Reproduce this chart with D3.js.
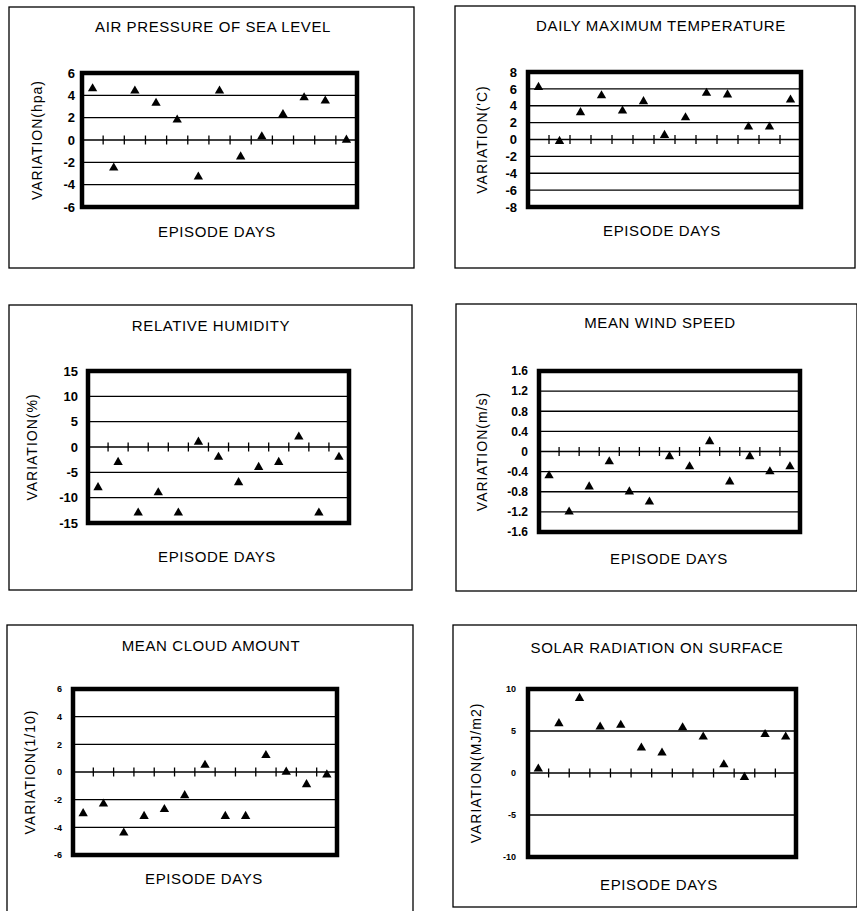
<!DOCTYPE html>
<html>
<head>
<meta charset="utf-8">
<script src="https://cdn.jsdelivr.net/npm/d3@7"></script>
<style>
  html, body { margin: 0; padding: 0; background: #fff; }
  svg { display: block; }
  text { font-family: "Liberation Sans", Arial, Helvetica, sans-serif; fill: #000; }
</style>
</head>
<body>
<svg id="chart" width="857" height="911"></svg>
<script>
// Episode days along the horizontal axis
const episodeDays = [1, 2, 3, 4, 5, 6, 7, 8, 9, 10, 11, 12, 13];

// Variation of each element on the episode days
const airPressure    = [4.6, -2.5, 4.4, 3.3, 1.8, -3.3, 4.4, -1.5, 0.3, 2.3, 3.8, 3.5, 0.0];
const maxTemperature = [6.2, -0.2, 3.2, 5.2, 3.4, 4.5, 0.5, 2.6, 5.5, 5.3, 1.5, 1.5, 4.7];
const humidity       = [-8, -3, -13, -9, -13, 1, -2, -7, -4, -3, 2, -13, -2];
const windSpeed      = [-0.48, -1.2, -0.7, -0.2, -0.8, -1.0, -0.1, -0.3, 0.2, -0.6, -0.1, -0.4, -0.3];
const cloudAmount    = [-3.0, -2.3, -4.4, -3.2, -2.7, -1.7, 0.5, -3.2, -3.2, 1.2, 0.0, -0.9, -0.2];
const solarRadiation = [0.5, 5.9, 8.9, 5.5, 5.7, 3.0, 2.4, 5.4, 4.3, 1.0, -0.5, 4.6, 4.3];

// Vertical axis ticks
const pressureTicks    = [-6, -4, -2, 0, 2, 4, 6];
const temperatureTicks = [-8, -6, -4, -2, 0, 2, 4, 6, 8];
const humidityTicks    = [-15, -10, -5, 0, 5, 10, 15];
const windTicks        = [-1.6, -1.2, -0.8, -0.4, 0, 0.4, 0.8, 1.2, 1.6];
const cloudTicks       = [-6, -4, -2, 0, 2, 4, 6];
const solarTicks       = [-10, -5, 0, 5, 10];

// Panel titles and axis titles
const titles  = ["AIR PRESSURE OF SEA LEVEL", "DAILY MAXIMUM TEMPERATURE", "RELATIVE HUMIDITY",
                 "MEAN WIND SPEED", "MEAN CLOUD AMOUNT", "SOLAR RADIATION ON SURFACE"];
const yTitles = ["VARIATION(hpa)", "VARIATION('C)", "VARIATION(%)",
                 "VARIATION(m/s)", "VARIATION(1/10)", "VARIATION(MJ/m2)"];
const xTitle  = "EPISODE DAYS";

const series = [airPressure, maxTemperature, humidity, windSpeed, cloudAmount, solarRadiation];
const tickSets = [pressureTicks, temperatureTicks, humidityTicks, windTicks, cloudTicks, solarTicks];

// Page layout of the six panels: outer box, plot frame, text anchors
const layout = [
  { box: [9, 7, 414, 268],    frame: [82, 73, 357, 207],   tx: 213, ty: 32,  xx: 217, xy: 237, yx: 38,  gap: 7,  fs: 13, fw: "bold" },
  { box: [455, 6, 855, 268],  frame: [528, 72, 801, 207],  tx: 661, ty: 31,  xx: 662, xy: 236, yx: 483, gap: 11, fs: 13, fw: "bold" },
  { box: [9, 305, 412, 590],  frame: [88, 371, 349, 523],  tx: 211, ty: 331, xx: 217, xy: 562, yx: 33,  gap: 10, fs: 13, fw: "bold" },
  { box: [456, 304, 857, 591],frame: [539, 371, 800, 532], tx: 660, ty: 328, xx: 669, xy: 564, yx: 483, gap: 11, fs: 12, fw: "bold" },
  { box: [7, 625, 413, 930],  frame: [73, 689, 337, 855],  tx: 211, ty: 651, xx: 204, xy: 884, yx: 31,  gap: 11, fs: 9,  fw: "bold" },
  { box: [453, 625, 857, 907],frame: [528, 689, 796, 857], tx: 657, ty: 653, xx: 659, xy: 890, yx: 477, gap: 12, fs: 9,  fw: "bold" }
];

const svg = d3.select("#chart");

const fmt = v => (Math.abs(v) < 1e-9 ? "0" : String(+v.toFixed(2)));

layout.forEach((L, i) => {
  const g = svg.append("g");
  const values = series[i];
  const ticks = tickSets[i];
  const [x0, y0, x1, y1] = L.frame;

  // outer box
  g.append("rect")
    .attr("x", L.box[0]).attr("y", L.box[1])
    .attr("width", L.box[2] - L.box[0]).attr("height", L.box[3] - L.box[1])
    .attr("fill", "none").attr("stroke", "#000").attr("stroke-width", 1.3);

  const x = d3.scaleBand().domain(episodeDays).range([x0, x1]);
  const y = d3.scaleLinear().domain([ticks[0], ticks[ticks.length - 1]]).range([y1, y0]);

  // horizontal grid lines (interior ticks)
  g.selectAll("line.grid")
    .data(ticks.slice(1, -1))
    .join("line")
    .attr("x1", x0).attr("x2", x1)
    .attr("y1", d => y(d)).attr("y2", d => y(d))
    .attr("stroke", "#000").attr("stroke-width", 1.3);

  // day separators on the zero line
  g.selectAll("line.day")
    .data(episodeDays.slice(1))
    .join("line")
    .attr("x1", d => x(d)).attr("x2", d => x(d))
    .attr("y1", y(0) - 4.5).attr("y2", y(0) + 4.5)
    .attr("stroke", "#000").attr("stroke-width", 1.3);

  // plot frame
  g.append("rect")
    .attr("x", x0).attr("y", y0)
    .attr("width", x1 - x0).attr("height", y1 - y0)
    .attr("fill", "none").attr("stroke", "#000").attr("stroke-width", 4.5);

  // vertical axis labels
  const axis = d3.axisLeft(y).tickValues(ticks).tickSize(0).tickPadding(L.gap).tickFormat(fmt);
  const ax = g.append("g").attr("transform", `translate(${x0},0)`).call(axis);
  ax.select(".domain").remove();
  ax.selectAll("text")
    .attr("font-size", L.fs).attr("font-weight", L.fw)
    .attr("font-family", "Liberation Sans, Arial, sans-serif")
    .attr("fill", "#000");

  // triangle markers
  g.selectAll("path.pt")
    .data(values)
    .join("path")
    .attr("d", d3.symbol(d3.symbolTriangle, 38))
    .attr("transform", (d, j) => `translate(${x(episodeDays[j]) + x.bandwidth() / 2},${y(d)})`)
    .attr("fill", "#000");

  // panel title
  g.append("text")
    .attr("x", L.tx).attr("y", L.ty)
    .attr("text-anchor", "middle")
    .attr("font-size", 15).attr("letter-spacing", 0.6)
    .text(titles[i]);

  // horizontal axis title
  g.append("text")
    .attr("x", L.xx).attr("y", L.xy)
    .attr("text-anchor", "middle")
    .attr("font-size", 15).attr("letter-spacing", 0.6)
    .text(xTitle);

  // vertical axis title
  g.append("text")
    .attr("transform", `translate(${L.yx},${(y0 + y1) / 2}) rotate(-90)`)
    .attr("text-anchor", "middle").attr("dominant-baseline", "middle")
    .attr("font-size", 14).attr("letter-spacing", 1)
    .text(yTitles[i]);
});
</script>
</body>
</html>
